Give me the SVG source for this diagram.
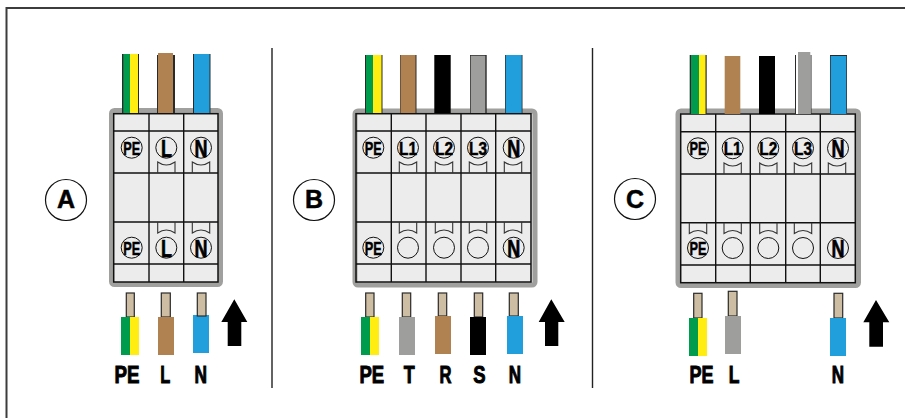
<svg xmlns="http://www.w3.org/2000/svg" width="905" height="418" viewBox="0 0 905 418">
<style>
.frame{fill:none;stroke:#3c3c3c;stroke-width:2}
.div{fill:none;stroke:#222;stroke-width:1.4}
.box{fill:#ececec;stroke:#a0a09e;stroke-width:5}
.in{fill:none;stroke:#111;stroke-width:1.5}
.ln{fill:none;stroke:#111;stroke-width:1.4}
.tab{fill:none;stroke:#333;stroke-width:1.1}
.c{fill:none;stroke:#111;stroke-width:1}
.t{font-family:"Liberation Sans",Arial,sans-serif;font-weight:700;fill:#000;stroke:#000;text-anchor:middle}
.cl{font-size:19px;stroke-width:.5px}
.cb{font-size:24px;stroke-width:.7px}
.lab{font-size:24.7px;stroke-width:1px}
.big{font-size:25px;stroke-width:.5px}
.cop{fill:#cdbda2;stroke:#2a2a2a;stroke-width:1.2}
.arr{fill:#000}
.e{fill:#2a2a2a}
.g{fill:#009b4c}.y{fill:#ffed12}.br{fill:#b08251}.bu{fill:#219fdc}.k{fill:#000}.gr{fill:#9e9e9c}
</style>
<g id="frame"><path class="frame" d="M6.5 418V8H905"/><path class="div" d="M272 48V388M592.5 170V388M592.5 48V170"/></g>

<g id="panel-a">
<g id="badge-a"><circle cx="66" cy="200" r="20.5" fill="#fff" stroke="#111" stroke-width="1.2"/><text class="t big" x="66" y="207.5">A</text></g>
<g id="block-a">
<rect class="box" x="111.5" y="110.5" width="109" height="174" rx="3"/>
<rect class="in" x="113.7" y="113.7" width="104.3" height="168.3"/>
<path class="ln" d="M149 114V282M183.7 114V282M114 131H218M114 173H218M114 222H218M114 264H218"/>
<path class="tab" d="M157.7 173V162Q166.3 168 175 162V173M192.3 173V162Q201 168 209.7 162V173M157.7 222V233Q166.3 227 175 233V222M192.3 222V233Q201 227 209.7 233V222"/>
<circle class="c" cx="131.7" cy="147.7" r="10.5"/><circle class="c" cx="166.3" cy="147.7" r="10.5"/><circle class="c" cx="201" cy="147.7" r="10.5"/>
<circle class="c" cx="131.7" cy="247.7" r="10.5"/><circle class="c" cx="166.3" cy="247.7" r="10.5"/><circle class="c" cx="201" cy="247.7" r="10.5"/>
<text class="t cl" x="131.7" y="154.5" textLength="17" lengthAdjust="spacingAndGlyphs">PE</text><text class="t cb" x="166.5" y="156.5" textLength="11" lengthAdjust="spacingAndGlyphs">L</text><text class="t cb" x="201" y="156.5" textLength="13" lengthAdjust="spacingAndGlyphs">N</text>
<text class="t cl" x="131.7" y="254.5" textLength="17" lengthAdjust="spacingAndGlyphs">PE</text><text class="t cb" x="166.5" y="256.5" textLength="11" lengthAdjust="spacingAndGlyphs">L</text><text class="t cb" x="201" y="256.5" textLength="13" lengthAdjust="spacingAndGlyphs">N</text>
</g>
<g id="wires-top-a">
<rect class="e" x="122" y="54" width="17" height="59"/><rect class="g" x="123.3" y="54" width="6.7" height="59"/><rect class="y" x="130" y="54" width="8" height="59"/>
<rect class="e" x="157" y="55" width="18" height="58"/><rect class="br" x="158" y="53" width="15" height="60"/>
<rect class="e" x="193" y="54" width="17.5" height="59"/><rect class="bu" x="194" y="54" width="15.5" height="59"/>
</g>
<g id="wires-bottom-a">
<rect class="cop" x="126.3" y="293" width="8" height="24"/><rect class="g" x="121" y="317" width="9" height="38"/><rect class="y" x="130" y="317" width="9" height="38"/>
<rect class="cop" x="161.3" y="293" width="9" height="24"/><rect class="br" x="158" y="317" width="16" height="38"/>
<rect class="bu" x="193" y="315" width="16" height="38"/><rect class="cop" x="197.3" y="293" width="8.7" height="23"/>
</g>
<path id="arrow-a" class="arr" d="M234.3 299.3L247.3 322H241.3V346H227.7V322H221.3Z"/>
<text class="t lab" x="127" y="383.3" textLength="25" lengthAdjust="spacingAndGlyphs">PE</text><text class="t lab" x="165.3" y="383.3" textLength="10" lengthAdjust="spacingAndGlyphs">L</text><text class="t lab" x="200.7" y="383.3" textLength="12.5" lengthAdjust="spacingAndGlyphs">N</text>
</g>

<g id="panel-b">
<g id="badge-b"><circle cx="314" cy="200" r="20.5" fill="#fff" stroke="#111" stroke-width="1.2"/><text class="t big" x="314" y="208">B</text></g>
<g id="block-b">
<rect class="box" x="355" y="111" width="180" height="174" rx="3"/>
<rect class="in" x="356" y="113.7" width="175" height="168.3"/>
<path class="ln" d="M391.3 114V282M426 114V282M461 114V282M495.7 114V282M356 131H531M356 173H531M356 222H531M356 264H531"/>
<path class="tab" d="M399.3 173V162Q408 168 416.7 162V173M435.3 173V162Q444 168 452.7 162V173M469.3 173V162Q478 168 486.7 162V173M504.3 173V162Q513 168 521.7 162V173M399.3 222V233Q408 227 416.7 233V222M435.3 222V233Q444 227 452.7 233V222M469.3 222V233Q478 227 486.7 233V222M504.3 222V233Q513 227 521.7 233V222"/>
<circle class="c" cx="373.3" cy="147.7" r="10.5"/><circle class="c" cx="408" cy="147.7" r="10.5"/><circle class="c" cx="444" cy="147.7" r="10.5"/><circle class="c" cx="478" cy="147.7" r="10.5"/><circle class="c" cx="513.7" cy="147.7" r="10.5"/>
<circle class="c" cx="373.3" cy="247.7" r="10.5"/><circle class="c" cx="408" cy="247.7" r="10.5"/><circle class="c" cx="444" cy="247.7" r="10.5"/><circle class="c" cx="478" cy="247.7" r="10.5"/><circle class="c" cx="513.7" cy="247.7" r="10.5"/>
<text class="t cl" x="373.3" y="154.5" textLength="17" lengthAdjust="spacingAndGlyphs">PE</text><text class="t cl" x="408" y="154.5" textLength="18" lengthAdjust="spacingAndGlyphs">L1</text><text class="t cl" x="444" y="154.5" textLength="18" lengthAdjust="spacingAndGlyphs">L2</text><text class="t cl" x="478" y="154.5" textLength="18" lengthAdjust="spacingAndGlyphs">L3</text><text class="t cb" x="513.7" y="156.5" textLength="13" lengthAdjust="spacingAndGlyphs">N</text>
<text class="t cl" x="373.3" y="254.5" textLength="17" lengthAdjust="spacingAndGlyphs">PE</text><text class="t cb" x="513.7" y="256.5" textLength="13" lengthAdjust="spacingAndGlyphs">N</text>
</g>
<g id="wires-top-b">
<rect class="e" x="365" y="55" width="17.5" height="58"/><rect class="g" x="366" y="55" width="7" height="58"/><rect class="y" x="373" y="55" width="8.5" height="58"/>
<rect class="e" x="400" y="55" width="16.5" height="58"/><rect class="br" x="400.5" y="55" width="15" height="58"/>
<rect class="k" x="434.3" y="55" width="16.4" height="58"/>
<rect class="e" x="470" y="55" width="16.7" height="58"/><rect class="gr" x="470.7" y="55.7" width="14.6" height="57.3"/>
<rect class="e" x="505" y="55" width="17.5" height="58"/><rect class="bu" x="505.7" y="55" width="16" height="58"/>
</g>
<g id="wires-bottom-b">
<rect class="cop" x="365.7" y="293" width="8.3" height="24"/><rect class="g" x="361" y="317" width="9" height="38"/><rect class="y" x="370" y="317" width="9" height="38"/>
<rect class="cop" x="402.3" y="293" width="8.4" height="24"/><rect class="gr" x="399" y="317" width="16" height="38"/>
<rect class="cop" x="438.3" y="293" width="8.4" height="23"/><rect class="br" x="435" y="316" width="16" height="38"/>
<rect class="cop" x="474.3" y="293" width="8.4" height="24"/><rect class="k" x="470" y="317" width="16" height="38"/>
<rect class="cop" x="509.3" y="293" width="9" height="23"/><rect class="bu" x="507" y="316" width="16" height="38"/>
</g>
<path id="arrow-b" class="arr" d="M551.3 299.3L564.7 322H558.3V346H545V322H538.7Z"/>
<text class="t lab" x="371.8" y="383.3" textLength="24.7" lengthAdjust="spacingAndGlyphs">PE</text><text class="t lab" x="409.3" y="383.3" textLength="11" lengthAdjust="spacingAndGlyphs">T</text><text class="t lab" x="445.5" y="383.3" textLength="12" lengthAdjust="spacingAndGlyphs">R</text><text class="t lab" x="479.3" y="383.3" textLength="12.3" lengthAdjust="spacingAndGlyphs">S</text><text class="t lab" x="515" y="383.3" textLength="12.3" lengthAdjust="spacingAndGlyphs">N</text>
</g>

<g id="panel-c">
<g id="badge-c"><circle cx="635" cy="199" r="20.5" fill="#fff" stroke="#111" stroke-width="1.2"/><text class="t big" x="635" y="207.5">C</text></g>
<g id="block-c">
<rect class="box" x="678" y="111" width="180.5" height="174.5" rx="3"/>
<rect class="in" x="680.7" y="114" width="174.6" height="168.7"/>
<path class="ln" d="M715.7 114V282.7M750.3 114V282.7M785.7 114V282.7M820.3 114V282.7M681 131.7H855M681 174H855M681 222.7H855M681 265H855"/>
<path class="tab" d="M724 174V163Q732.7 169 741.3 163V174M759.7 174V163Q768.3 169 777 163V174M794.3 174V163Q803 169 811.7 163V174M828.3 174V163Q837 169 845.7 163V174M689.3 222.7V233.5Q698 227.5 706.7 233.5V222.7M724 222.7V233.5Q732.7 227.5 741.3 233.5V222.7M759.7 222.7V233.5Q768.3 227.5 777 233.5V222.7M794.3 222.7V233.5Q803 227.5 811.7 233.5V222.7"/>
<circle class="c" cx="698" cy="148.3" r="10.5"/><circle class="c" cx="732.7" cy="148.3" r="10.5"/><circle class="c" cx="768.3" cy="148.3" r="10.5"/><circle class="c" cx="803" cy="148.3" r="10.5"/><circle class="c" cx="838" cy="148.3" r="10.5"/>
<circle class="c" cx="698" cy="248" r="10.5"/><circle class="c" cx="732.7" cy="248" r="10.5"/><circle class="c" cx="768.3" cy="248" r="10.5"/><circle class="c" cx="803" cy="248" r="10.5"/><circle class="c" cx="838" cy="248" r="10.5"/>
<text class="t cl" x="698" y="155" textLength="17" lengthAdjust="spacingAndGlyphs">PE</text><text class="t cl" x="732.7" y="155" textLength="18" lengthAdjust="spacingAndGlyphs">L1</text><text class="t cl" x="768.3" y="155" textLength="18" lengthAdjust="spacingAndGlyphs">L2</text><text class="t cl" x="803" y="155" textLength="18" lengthAdjust="spacingAndGlyphs">L3</text><text class="t cb" x="838" y="157" textLength="13" lengthAdjust="spacingAndGlyphs">N</text>
<text class="t cl" x="698" y="254.8" textLength="17" lengthAdjust="spacingAndGlyphs">PE</text><text class="t cb" x="838" y="256.8" textLength="13" lengthAdjust="spacingAndGlyphs">N</text>
</g>
<g id="wires-top-c">
<rect class="e" x="689.7" y="55" width="17" height="59"/><rect class="g" x="691" y="55" width="8" height="59"/><rect class="y" x="699" y="55" width="6.5" height="59"/>
<rect class="br" x="724.7" y="56" width="15.6" height="58"/>
<rect class="k" x="759" y="56" width="16" height="58"/>
<rect class="e" x="795" y="55" width="16.5" height="59"/><rect fill="#fff" x="796" y="55" width="14.5" height="59"/><rect class="gr" x="798" y="52" width="12.3" height="62"/>
<rect class="e" x="830" y="55" width="17" height="59"/><rect class="bu" x="830.7" y="56" width="15.6" height="58"/>
</g>
<g id="wires-bottom-c">
<rect class="cop" x="693.7" y="293.3" width="8.3" height="24.7"/><rect class="g" x="689" y="318" width="9" height="38"/><rect class="y" x="698" y="318" width="9" height="38"/>
<rect class="cop" x="728.3" y="291.3" width="8.7" height="24.7"/><rect class="gr" x="725" y="316" width="16" height="38"/>
<rect class="cop" x="834" y="293.3" width="8.7" height="24.7"/><rect class="bu" x="830" y="318" width="16" height="38"/>
</g>
<path id="arrow-c" class="arr" d="M876 300L889.3 322.3H883V346.7H869.3V322.3H863.3Z"/>
<text class="t lab" x="701.5" y="383.3" textLength="24" lengthAdjust="spacingAndGlyphs">PE</text><text class="t lab" x="734.2" y="383.3" textLength="10.7" lengthAdjust="spacingAndGlyphs">L</text><text class="t lab" x="838" y="383.3" textLength="12.3" lengthAdjust="spacingAndGlyphs">N</text>
</g>
</svg>
